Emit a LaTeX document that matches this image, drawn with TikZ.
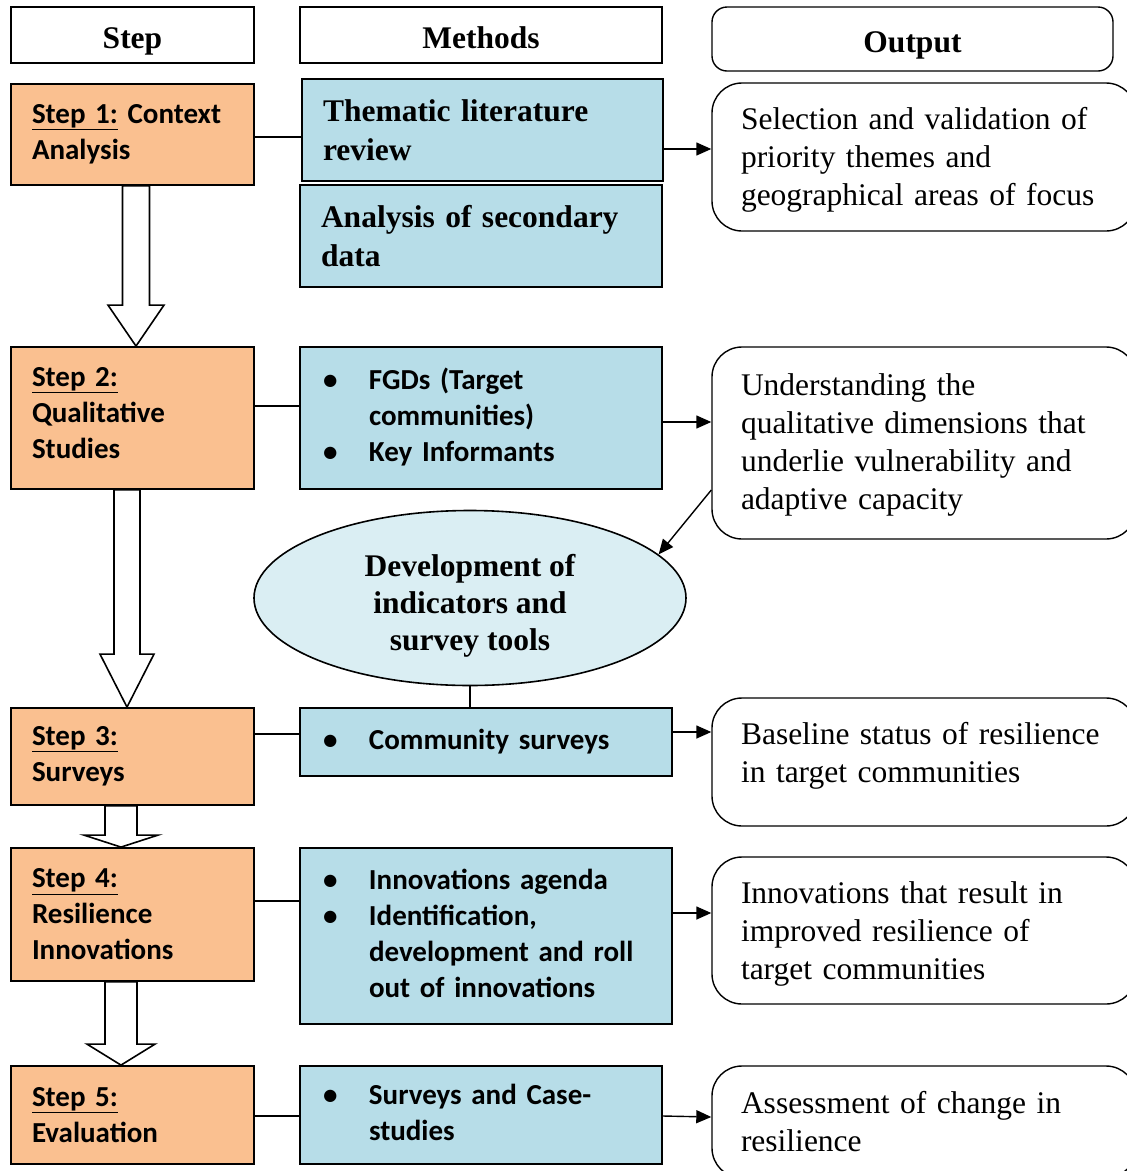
\documentclass[tikz,border=0pt]{standalone}
\usepackage{fontspec}
\setmainfont{Liberation Serif}
\newfontfamily\carlito{Carlito}
\usetikzlibrary{shapes.geometric,arrows.meta,calc}
\definecolor{stepor}{HTML}{FAC090}
\definecolor{methbl}{HTML}{B7DDE8}
\definecolor{ellbl}{HTML}{DAEEF3}
\begin{document}
\begin{tikzpicture}[x=1pt,y=-1pt,
  serifb/.style={font=\fontsize{31.5}{38}\selectfont\bfseries},
  hdr/.style={draw, line width=1.6pt, serifb, inner sep=0pt, text height=26pt, text depth=0pt},
  stepbox/.style={draw, line width=1.8pt, fill=stepor, font=\carlito\fontsize{29}{36}\selectfont\bfseries,
     align=left, inner xsep=21pt, inner ysep=0pt, text width=201pt, minimum width=243pt},
  methb/.style={draw, line width=1.8pt, fill=methbl, serifb, font=\fontsize{31.5}{39}\selectfont\bfseries,
     align=left, inner xsep=21pt, inner ysep=0pt},
  methl/.style={draw, line width=1.8pt, fill=methbl, font=\carlito\fontsize{29}{36}\selectfont\bfseries,
     align=left, inner xsep=23pt, inner ysep=0pt},
  outbox/.style={draw, line width=1.4pt, rounded corners=30pt, font=\fontsize{31.5}{38}\selectfont,
     align=left, inner xsep=29pt, inner ysep=0pt, text width=366pt, minimum width=424pt},
  conn/.style={line width=1.4pt},
  arr/.style={line width=1.4pt, -{Triangle[length=15pt,width=13pt]}},
  blk/.style={draw, fill=white, line width=1.6pt, line join=miter}
]
\useasboundingbox (0,0) rectangle (1127,1171);

% headers
\node[hdr, minimum width=243pt, minimum height=56pt] (hstep) at (132.5,35) {Step};
\node[hdr, minimum width=362pt, minimum height=56pt] (hmeth) at (481,35) {Methods};
\node[hdr, rounded corners=15pt, line width=1.4pt, minimum width=401pt, minimum height=64pt] (hout) at (912.5,39) {Output};

% steps
\node[stepbox, minimum height=101pt] (s1) at (132.5,134.5) {\underline{Step 1:} Context\\Analysis};
\node[stepbox, minimum height=142pt] (s2) at (132.5,418) {\underline{Step 2:}\\Qualitative\\Studies\\[-26pt]\mbox{}};
\node[stepbox, minimum height=97pt] (s3) at (132.5,756.5) {\underline{Step 3:}\\Surveys};
\node[stepbox, minimum height=133pt] (s4) at (132.5,914.5) {\underline{Step 4:}\\Resilience\\Innovations};
\node[stepbox, minimum height=98pt] (s5) at (132.5,1115) {\underline{Step 5:}\\Evaluation};

% methods
\node[methb, minimum width=361pt, text width=319pt, minimum height=102pt] (them) at (482.5,130) {Thematic literature\\review};
\node[methb, minimum width=362pt, text width=320pt, minimum height=102pt] (anal) at (481,236) {Analysis of secondary\\data};
\node[methl, minimum width=362pt, text width=316pt, minimum height=142pt] (fgd) at (481,418)
  {\begin{tabular}{@{}p{46pt}@{}l@{}}•&FGDs (Target\\ &communities)\\•&Key Informants\end{tabular}};
\node[methl, minimum width=372pt, text width=326pt, minimum height=68pt] (comm) at (486,742)
  {\begin{tabular}{@{}p{46pt}@{}l@{}}•&Community surveys\end{tabular}};
\node[methl, minimum width=372pt, text width=326pt, minimum height=176pt] (innov) at (486,936)
  {\begin{tabular}{@{}p{46pt}@{}l@{}}•&Innovations agenda\\•&Identification,\\ &development and roll\\ &out of innovations\end{tabular}};
\node[methl, minimum width=362pt, text width=316pt, minimum height=98pt] (surv) at (481,1115)
  {\begin{tabular}{@{}p{46pt}@{}l@{}}•&Surveys and Case-\\ &studies\end{tabular}};

% ellipse
\node[ellipse, draw, line width=1.6pt, fill=ellbl, minimum width=432pt, minimum height=175pt, inner sep=0pt,
      align=center, text height=111.5pt, font=\fontsize{31.5}{37}\selectfont\bfseries] (ell) at (470,598)
  {Development of\\indicators and\\survey tools};

% outputs
\node[outbox, minimum height=148pt, text height=28.5pt] (o1) at (924,157) {Selection and validation of\\priority themes and\\geographical areas of focus};
\node[outbox, minimum height=192pt, text height=25.5pt] (o2) at (924,443) {Understanding the\\qualitative dimensions that\\underlie vulnerability and\\adaptive capacity};
\node[outbox, minimum height=128pt] (o3) at (924,762) {Baseline status of resilience\\in target communities\\[-18pt]\mbox{}};
\node[outbox, minimum height=147pt, text height=29.5pt] (o4) at (924,930.5) {Innovations that result in\\improved resilience of\\target communities};
\node[outbox, minimum height=112pt] (o5) at (924,1122) {Assessment of change in\\resilience};

% step -> method lines
\draw[conn] ([yshift=-2.5pt]s1.east) -- ([yshift=-2.5pt]s1.east -| them.west);
\draw[conn] ([yshift=12pt]s2.east) -- ([yshift=12pt]s2.east -| fgd.west);
\draw[conn] ([yshift=22.5pt]s3.east) -- ([yshift=22.5pt]s3.east -| comm.west);
\draw[conn] ([yshift=13.5pt]s4.east) -- ([yshift=13.5pt]s4.east -| innov.west);
\draw[conn] ([yshift=-1pt]s5.east) -- ([yshift=-1pt]s5.east -| surv.west);

% method -> output arrows
\draw[arr] ([yshift=-19pt]them.east) -- ([yshift=-19pt]them.east -| o1.west);
\draw[arr] ([yshift=-4pt]fgd.east) -- ([yshift=-4pt]fgd.east -| o2.west);
\draw[arr] ([yshift=10pt]comm.east) -- ([yshift=10pt]comm.east -| o3.west);
\draw[arr] ([yshift=23pt]innov.east) -- ([yshift=23pt]innov.east -| o4.west);
\draw[arr] ([yshift=-1pt]surv.east) -- ([yshift=-2pt]surv.east -| o5.west);

% output2 -> ellipse, ellipse -> community surveys
\draw[arr] ([yshift=-47pt]o2.west) -- (ell.13);
\draw[conn] (ell.south) -- (ell.south |- comm.north);

% block arrows
\draw[blk] let \p1=(s1.south), \p2=(s2.north) in
  (\x1+3.5pt-13.5pt,\y1) -- (\x1+3.5pt+13.5pt,\y1) -- (\x1+3.5pt+13.5pt,\y2+41pt) -- (\x1+3.5pt+28pt,\y2+41pt)
  -- (\x1+3.5pt,\y2) -- (\x1+3.5pt-28pt,\y2+41pt) -- (\x1+3.5pt-13.5pt,\y2+41pt) -- cycle;
\draw[blk] let \p1=(s2.south), \p2=(s3.north) in
  (\x1-5.5pt-13pt,\y1) -- (\x1-5.5pt+13pt,\y1) -- (\x1-5.5pt+13pt,\y2+53pt) -- (\x1-5.5pt+27pt,\y2+53pt)
  -- (\x1-5.5pt,\y2) -- (\x1-5.5pt-27pt,\y2+53pt) -- (\x1-5.5pt-13pt,\y2+53pt) -- cycle;
\draw[blk] let \p1=(s3.south), \p2=(s4.north) in
  (\x1-11.5pt-16pt,\y1) -- (\x1-11.5pt+16pt,\y1) -- (\x1-11.5pt+16pt,\y2+12pt) -- (\x1-11.5pt+37pt,\y2+12pt)
  -- (\x1-11.5pt,\y2) -- (\x1-11.5pt-37pt,\y2+12pt) -- (\x1-11.5pt-16pt,\y2+12pt) -- cycle;
\draw[blk] let \p1=(s4.south), \p2=(s5.north) in
  (\x1-11.5pt-16pt,\y1) -- (\x1-11.5pt+16pt,\y1) -- (\x1-11.5pt+16pt,\y2+21pt) -- (\x1-11.5pt+34pt,\y2+21pt)
  -- (\x1-11.5pt,\y2) -- (\x1-11.5pt-34pt,\y2+21pt) -- (\x1-11.5pt-16pt,\y2+21pt) -- cycle;
\end{tikzpicture}
\end{document}
